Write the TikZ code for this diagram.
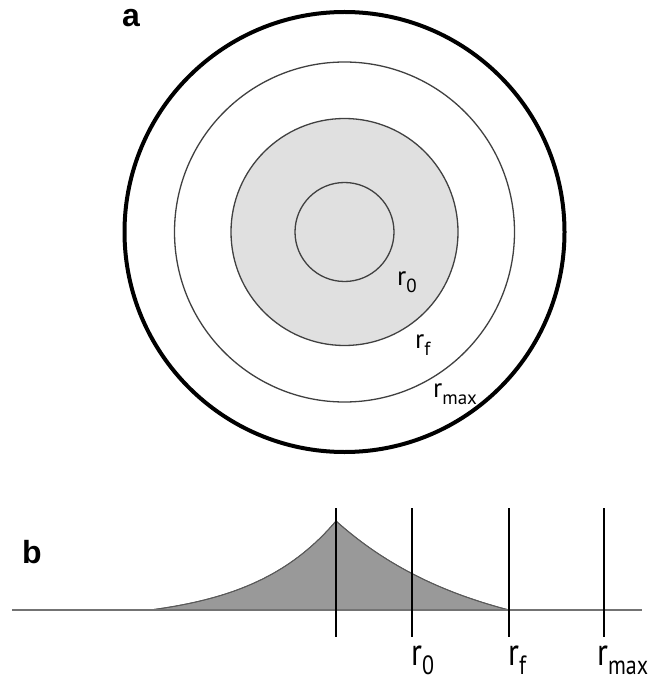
\documentclass[tikz,border=0pt]{standalone}
\usepackage{fontspec}
\setmainfont{PT Sans}
\newfontfamily\panelfont{Liberation Sans}
\newcommand\rlab[2]{r\raisebox{-0.26em}{\fontsize{#2}{#2}\selectfont #1}}
\tikzset{
  ring/.style={draw=black!75, line width=1.3pt},
  outerring/.style={draw=black, line width=4pt},
  core/.style={fill=black!12, draw=black!75, line width=1.3pt},
  lbla/.style={anchor=base west, inner sep=0pt, font=\fontsize{27}{27}\selectfont},
  lblb/.style={anchor=base west, inner sep=0pt, font=\fontsize{32}{32}\selectfont},
  panel/.style={anchor=base west, inner sep=0pt, font=\panelfont\bfseries\fontsize{32}{32}\selectfont},
  axisline/.style={draw=black!55, line width=1.6pt},
  marker/.style={draw=black, line width=1.8pt},
  profile/.style={fill=black!40, draw=black!65, line width=0.9pt}
}
\begin{document}
\begin{tikzpicture}[x=1pt,y=-1pt]
\useasboundingbox (0,0) rectangle (653,684);
% panel a
\coordinate (c) at (344.5,232);
\draw[outerring] (c) circle[radius=220];
\draw[ring] (c) circle[radius=170];
\draw[core] (c) circle[radius=113.5];
\draw[ring] (c) circle[radius=49.5];
\node[panel] (la) at (122,27) {a};
\node[lbla] (r0a) at (397,285) {\rlab{0}{19}};
\node[lbla] (rfa) at (415,348) {\rlab{f}{19}};
\node[lbla] (rmaxa) at (433,397) {\rlab{max}{19}};
% panel b
\node[panel] (lb) at (22,563) {b};
\fill[profile]
  plot[domain=150:336,samples=60] ({\x},{610-100.24*(exp((\x-336)/85)-0.1121)})
  -- plot[domain=336:509,samples=60] ({\x},{610-125.46*(exp((336-\x)/140)-0.2906)})
  -- cycle;
\draw[profile,fill=none]
  plot[domain=150:336,samples=60] ({\x},{610-100.24*(exp((\x-336)/85)-0.1121)})
  -- plot[domain=336:509,samples=60] ({\x},{610-125.46*(exp((336-\x)/140)-0.2906)});
\coordinate (bl) at (12,610);
\coordinate (br) at (642,610);
\draw[axisline] (bl) -- (br);
\foreach \name/\xx in {peak/336,r0/412,rf/509,rmax/604}{
  \coordinate (\name top) at (\xx,508);
  \coordinate (\name bot) at (\xx,637);
  \draw[marker] (\name top) -- (\name bot);
}
\node[lblb] (r0b) at (411,665) {\scalebox{1}[1.2]{\rlab{0}{22}}};
\node[lblb] (rfb) at (508,665) {\scalebox{1}[1.2]{\rlab{f}{22}}};
\node[lblb] (rmaxb) at (597,665) {\scalebox{1}[1.2]{\rlab{max}{22}}};
\end{tikzpicture}
\end{document}
